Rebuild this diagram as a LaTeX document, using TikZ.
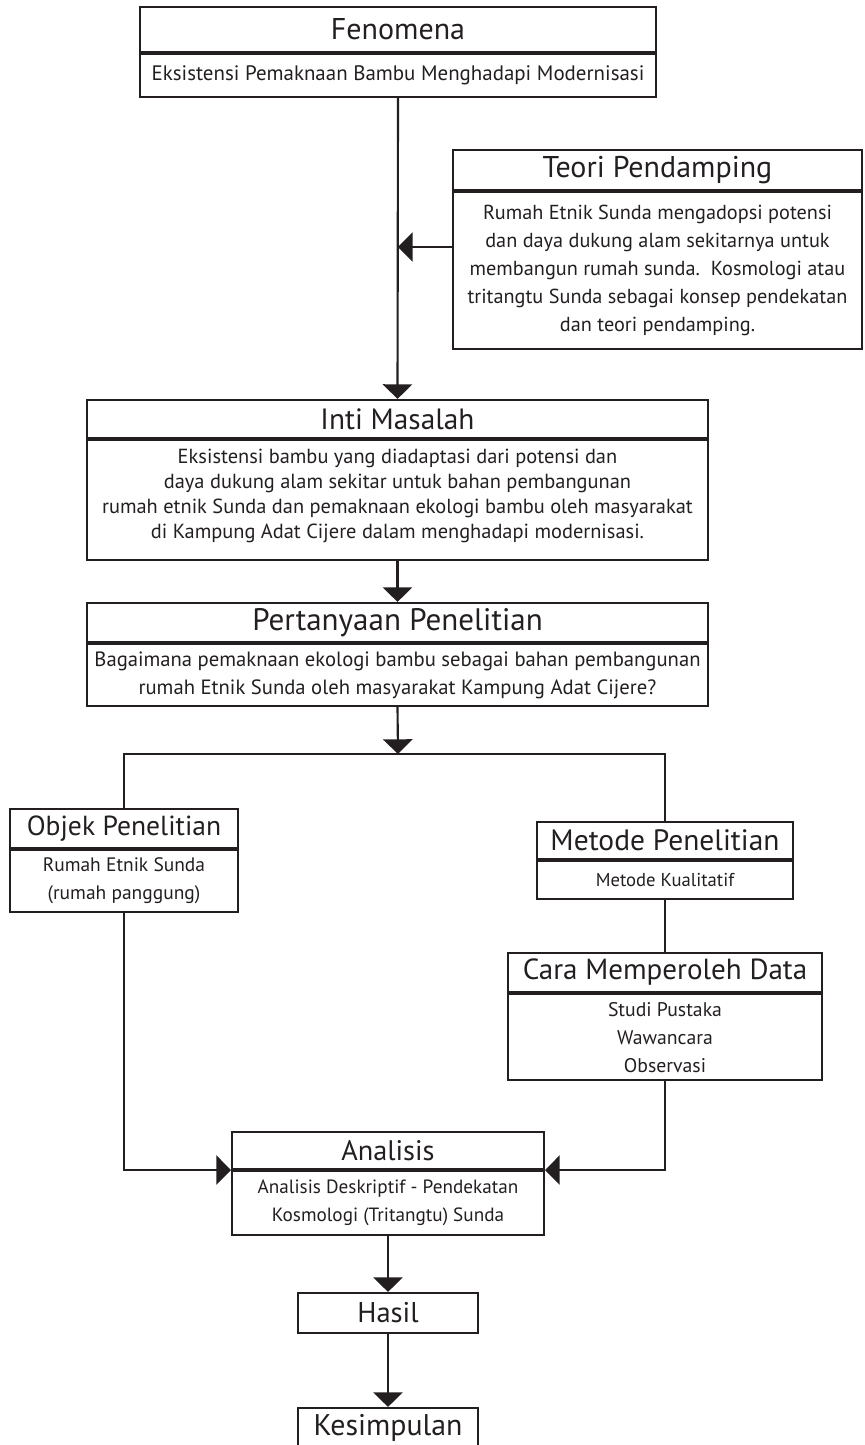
\documentclass[tikz,border=0pt]{standalone}
\usepackage{fontspec}
\setmainfont{PT Sans}
\usetikzlibrary{arrows.meta}

\definecolor{ink}{RGB}{35,31,32}

\tikzset{
  headbox/.style={draw=ink, line width=1.6pt, inner sep=0pt, align=center, text=ink,
    font=\fontsize{#1}{24}\selectfont},
  headbox/.default=21,
  textbox/.style={draw=ink, line width=1.6pt, inner sep=0pt, align=center, text=ink,
    font=\fontsize{#1}{21}\selectfont, anchor=north},
  textbox/.default=14,
  link/.style={draw=ink, line width=1.6pt},
  arr/.style={link, -{Triangle[width=22pt,length=11pt]}}
}

\begin{document}
\begin{tikzpicture}[x=0.75pt,y=0.75pt,yscale=-1,xscale=1]
\useasboundingbox (0,0) rectangle (864,1445);

% Fenomena
\node [headbox=22.5, minimum width=387pt, minimum height=33.75pt] (fenhead) at (398,29.5) {Fenomena};
\node [textbox=15.7, minimum width=387pt, minimum height=32.25pt] (fenbody) at (fenhead.south) {Eksistensi Pemaknaan Bambu Menghadapi Modernisasi};

% Teori Pendamping
\node [headbox=22.5, minimum width=306.75pt, minimum height=30pt] (teohead) at (657.5,170) {Teori Pendamping};
\node [textbox=15.2, minimum width=306.75pt, minimum height=117.75pt] (teobody) at (teohead.south) {Rumah Etnik Sunda mengadopsi potensi\\ dan daya dukung alam sekitarnya untuk\\ membangun rumah sunda.\ \ Kosmologi atau\\ tritangtu Sunda sebagai konsep pendekatan\\ dan teori pendamping.\rule[-4pt]{0pt}{1pt}};

% Inti Masalah
\node [headbox=22, minimum width=465.75pt, minimum height=28.5pt] (inthead) at (397.5,419) {Inti Masalah};
\node [textbox, minimum width=465.75pt, minimum height=90pt, font=\fontsize{15.3}{18.7}\selectfont] (intbody) at (inthead.south) {Eksistensi bambu yang diadaptasi dari potensi dan\\ daya dukung alam sekitar untuk bahan pembangunan\\ rumah etnik Sunda dan pemaknaan ekologi bambu oleh masyarakat\\ di Kampung Adat Cijere dalam menghadapi modernisasi.\rule[-10pt]{0pt}{1pt}};

% Pertanyaan Penelitian
\node [headbox=23.3, minimum width=465.75pt, minimum height=29.25pt] (perhead) at (397.5,622.5) {Pertanyaan Penelitian};
\node [textbox=15.5, minimum width=465.75pt, minimum height=46.5pt] (perbody) at (perhead.south) {Bagaimana pemaknaan ekologi bambu sebagai bahan pembangunan\\ rumah Etnik Sunda oleh masyarakat Kampung Adat Cijere?};

% Objek Penelitian
\node [headbox=20.7, minimum width=171pt, minimum height=29.25pt] (objhead) at (124,828.5) {Objek Penelitian};
\node [textbox=14.6, minimum width=171pt, minimum height=46.5pt] (objbody) at (objhead.south) {Rumah Etnik Sunda\\ (rumah panggung)};

% Metode Penelitian
\node [headbox=22.1, minimum width=192pt, minimum height=27.75pt] (methead) at (665,840.5) {Metode Penelitian};
\node [textbox=14, minimum width=192pt, minimum height=28.5pt] (metbody) at (methead.south) {Metode Kualitatif};

% Cara Memperoleh Data
\node [headbox=21.8, minimum width=235.5pt, minimum height=29.25pt] (carhead) at (665,972.5) {Cara Memperoleh Data};
\node [textbox=14.8, minimum width=235.5pt, minimum height=64.5pt] (carbody) at (carhead.south) {Studi Pustaka\\ Wawancara\\ Observasi};

% Analisis
\node [headbox=21.2, minimum width=234pt, minimum height=27.75pt] (anahead) at (388,1150.5) {Analisis};
\node [textbox=14.4, minimum width=234pt, minimum height=48pt] (anabody) at (anahead.south) {Analisis Deskriptif - Pendekatan\\ Kosmologi (Tritangtu) Sunda};

% Hasil, Kesimpulan
\node [headbox=21.4, minimum width=135pt, minimum height=30pt] (hasil) at (388,1313) {Hasil};
\node [headbox=22.4, minimum width=135pt, minimum height=30pt] (kesimpulan) at (388,1428) {Kesimpulan};

% joints
\coordinate (teojoin) at (398,247);
\coordinate (branch) at (398,754);

% Straight Lines
\draw [arr] (fenbody.south) -- (inthead.north);
\draw [arr] (teobody.west |- teojoin) -- (teojoin);
\draw [arr] (intbody.south) -- (perhead.north);
\draw [arr] (perbody.south) -- (branch);
\draw [link] (objhead.north) |- (branch) -| (methead.north);
\draw [link] (metbody.south) -- (carhead.north);
\draw [arr] (objbody.south) |- (anahead.south west);
\draw [arr] (carbody.south) |- (anahead.south east);
\draw [arr] (anabody.south) -- (hasil.north);
\draw [arr] (hasil.south) -- (kesimpulan.north);

\end{tikzpicture}
\end{document}
